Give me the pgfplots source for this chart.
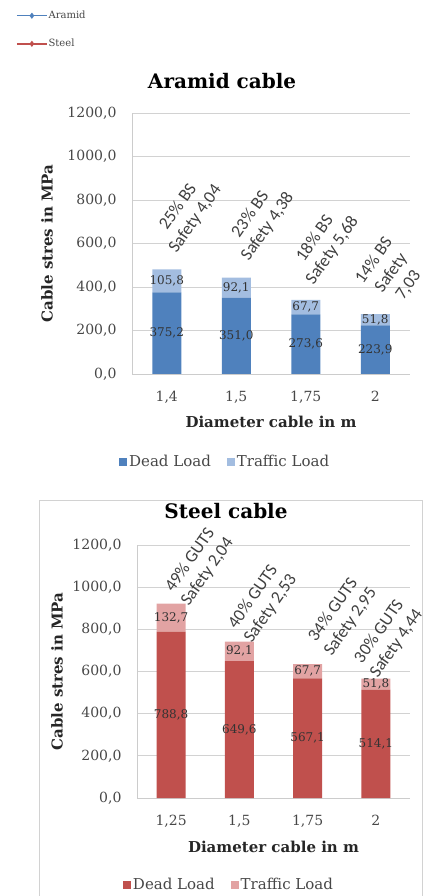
\documentclass[border=0pt]{standalone}
\usepackage{fontspec}
\setmainfont{DejaVu Serif}
\newfontfamily\carlito{Carlito}
\usepackage{pgfplots}
\pgfplotsset{compat=1.18}

\definecolor{adead}{HTML}{4F81BD}
\definecolor{atraf}{HTML}{A3BDE0}
\definecolor{sdead}{HTML}{C0504D}
\definecolor{straf}{HTML}{E2A3A3}
\definecolor{tickgray}{HTML}{474747}

\tikzset{ann/.style={rotate=55, align=center, font=\carlito\fontsize{17.5bp}{21bp}\selectfont, text=black!75}}

\pgfplotsset{
 cablechart/.style={
  scale only axis, clip=false,
  ybar stacked, bar width=29bp,
  xmin=-0.5,xmax=3.5,ymin=0,ymax=1200,
  enlargelimits=false,
  xtick={0,1,2,3}, ytick={0,200,...,1200},
  major tick length=0,
  ymajorgrids, grid style={draw=gray!35, line width=0.8pt},
  axis lines=left, axis line style={-, draw=gray!40, line width=0.8pt},
  /pgf/number format/assume math mode=true,
  yticklabel={\pgfmathprintnumber[fixed,fixed zerofill,precision=1,use comma,1000 sep={}]{\tick}},
  tick label style={font=\fontsize{14bp}{16bp}\selectfont, text=tickgray},
  yticklabel style={xshift=-12bp},
  xticklabel style={yshift=-14bp},
  xticklabels={{1,4},{1,5},{1,75},{2}},
  xlabel={Diameter cable in m}, ylabel={Cable stres in MPa},
  label style={font=\bfseries\fontsize{15bp}{18bp}\selectfont, text=black!85},
  title style={font=\bfseries\fontsize{20bp}{24bp}\selectfont, anchor=center},
  legend columns=2,
  legend style={draw=none, fill=none, font=\fontsize{15bp}{18bp}\selectfont, text=tickgray, anchor=center, /tikz/every even column/.append style={column sep=14bp}},
  legend image code/.code={\fill[##1] (0bp,-4bp) rectangle (8bp,4bp);},
  nodes near coords={\pgfmathprintnumber[fixed,fixed zerofill,precision=1,use comma]{\pgfplotspointmeta}},
  point meta=rawy,
  every node near coord/.append style={font=\fontsize{12bp}{14bp}\selectfont, text=black!80, anchor=center},
 }
}

\begin{document}
\begin{tikzpicture}
\useasboundingbox (0,0) rectangle (426bp,896bp);

% top leftover legend
\begin{axis}[at={(0bp,896bp)}, anchor=north west, scale only axis, width=100bp, height=60bp,
  hide axis, xmin=0,xmax=1,ymin=0,ymax=1,
  legend cell align=left,
  legend style={at={(axis description cs:0.16,0.85)}, anchor=north west, draw=none, fill=none,
    font=\fontsize{10bp}{11bp}\selectfont, text=tickgray, row sep=15bp, inner sep=0pt,
    nodes={inner xsep=1bp}},
  legend image code/.code={\draw[mark repeat=2,mark phase=2,#1] plot coordinates {(0bp,0bp) (15bp,0bp) (30bp,0bp)};}]
\addlegendimage{adead, line width=1.4pt, mark=diamond*, mark size=2pt}
\addlegendentry{Aramid}
\addlegendimage{sdead, line width=1.4pt, mark=diamond*, mark size=2pt}
\addlegendentry{Steel}
\end{axis}

% Aramid chart
\begin{axis}[cablechart, at={(132bp,522bp)}, anchor=south west, width=278bp, height=261bp,
  title={Aramid cable}, title style={at={(axis description cs:0.324,1.10)}},
  xlabel style={at={(axis description cs:0.5,-0.184)}, anchor=center},
  ylabel style={at={(axis description cs:-0.306,0.5)}, anchor=center},
  legend style={at={(axis description cs:0.335,-0.337)}}]
\addplot[fill=adead, draw=none] coordinates {(0,375.2) (1,351.0) (2,273.6) (3,223.9)};
\addplot[fill=atraf, draw=none] coordinates {(0,105.8) (1,92.1) (2,67.7) (3,51.8)};
\legend{Dead Load, Traffic Load}
\node[ann] at (axis cs:0.29,740) {25\% BS\\Safety 4,04};
\node[ann] at (axis cs:1.33,705) {23\% BS\\Safety 4,38};
\node[ann] at (axis cs:2.26,595) {18\% BS\\Safety 5,68};
\node[ann] at (axis cs:3.23,465) {14\% BS\\Safety\\7,03};
\end{axis}

% Steel chart frame
\draw[gray!35, line width=0.8pt] (39bp,-2bp) -- (39bp,396bp) -- (422bp,396bp) -- (422bp,-2bp);

\begin{axis}[cablechart, at={(137bp,98bp)}, anchor=south west, width=273bp, height=253bp,
  xticklabels={{1,25},{1,5},{1,75},{2}},
  title={Steel cable}, title style={at={(axis description cs:0.326,1.11)}},
  xlabel style={at={(axis description cs:0.5,-0.194)}, anchor=center},
  ylabel style={at={(axis description cs:-0.293,0.5)}, anchor=center},
  legend style={at={(axis description cs:0.337,-0.344)}}]
\addplot[fill=sdead, draw=none] coordinates {(0,788.8) (1,649.6) (2,567.1) (3,514.1)};
\addplot[fill=straf, draw=none] coordinates {(0,132.7) (1,92.1) (2,67.7) (3,51.8)};
\legend{Dead Load, Traffic Load}
\node[ann] at (axis cs:0.408,1100) {49\% GUTS\\Safety 2,04};
\node[ann] at (axis cs:1.332,925) {40\% GUTS\\Safety 2,53};
\node[ann] at (axis cs:2.504,863) {34\% GUTS\\Safety 2,95};
\node[ann] at (axis cs:3.178,760) {30\% GUTS\\Safety 4,44};
\end{axis}
\end{tikzpicture}
\end{document}
